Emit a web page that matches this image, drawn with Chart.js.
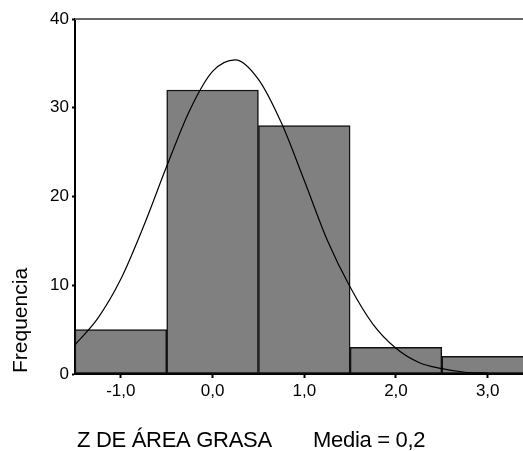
<!DOCTYPE html>
<html>
<head>
<meta charset="utf-8">
<script src="https://cdn.jsdelivr.net/npm/chart.js@4/dist/chart.umd.min.js"></script>
<style>
    html, body { margin: 0; padding: 0; background: #fff; }
    canvas { display: block; }
</style>
</head>
<body>
<canvas id="chart" width="523" height="451"></canvas>
<script>
// histogram bins (centre of each bin, width 1)
const binCenters = [-1, 0, 1, 2, 3];
const frequencies = [5, 32, 28, 3, 2];

// normal curve
const curveX = [-1.5, -1.25, -1, -0.75, -0.5, -0.25, 0, 0.25, 0.5, 0.75, 1, 1.25, 1.5, 1.75, 2, 2.25, 2.5, 2.75, 3];
const curveY = [3.3, 6.3, 10.7, 16.7, 23.4, 29.7, 34.1, 35.4, 33.2, 28.3, 21.8, 15.1, 9.8, 5.6, 2.9, 1.3, 0.6, 0.2, 0.1];

const xTicks = [-1, 0, 1, 2, 3];
const yTicks = [0, 10, 20, 30, 40];

const xTitle = 'Z DE ÁREA GRASA';
const meanLabel = 'Media = 0,2';
const yTitle = 'Frequencia';

const FONT = '"Liberation Sans", Arial, sans-serif';

const framePlugin = {
    id: 'frame',
    afterDraw(chart) {
        const ctx = chart.ctx;
        const area = chart.chartArea;
        ctx.save();
        // grey top border
        ctx.strokeStyle = '#666';
        ctx.lineWidth = 2;
        ctx.beginPath();
        ctx.moveTo(area.left, area.top);
        ctx.lineTo(chart.width, area.top);
        ctx.stroke();

        ctx.fillStyle = '#000';
        ctx.font = '22px ' + FONT;
        ctx.textBaseline = 'alphabetic';
        ctx.textAlign = 'left';
        ctx.letterSpacing = '-0.3px';
        ctx.fillText(xTitle, 77, 447);
        ctx.fillText(meanLabel, 313, 447);

        ctx.translate(27, 373);
        ctx.rotate(-Math.PI / 2);
        ctx.font = '21px ' + FONT;
        ctx.letterSpacing = '0px';
        ctx.fillText(yTitle, 0, 0);
        ctx.restore();
    }
};

const ctx = document.getElementById('chart').getContext('2d');

new Chart(ctx, {
    type: 'bar',
    data: {
        datasets: [
            {
                type: 'line',
                label: 'Normal',
                data: curveX.map((x, i) => ({ x: x, y: curveY[i] })),
                borderColor: '#000',
                borderWidth: 1.2,
                pointRadius: 0,
                cubicInterpolationMode: 'monotone',
                fill: false,
                order: 0
            },
            {
                type: 'bar',
                label: 'Frecuencia',
                data: binCenters.map((x, i) => ({ x: x, y: frequencies[i] })),
                backgroundColor: 'rgb(128, 128, 128)',
                borderColor: '#111',
                borderWidth: 1.5,
                borderSkipped: false,
                barPercentage: 1,
                categoryPercentage: 1,
                order: 1
            }
        ]
    },
    options: {
        responsive: false,
        animation: false,
        layout: { padding: { top: 19, right: 0, left: 0, bottom: 0 } },
        plugins: {
            legend: { display: false },
            tooltip: { enabled: false }
        },
        scales: {
            x: {
                type: 'linear',
                offset: false,
                min: -1.5,
                max: 3.385,
                afterBuildTicks: scale => {
                    scale.ticks = xTicks.map(v => ({ value: v }));
                },
                afterFit: scale => { scale.height = 77; },
                ticks: {
                    color: '#000',
                    font: { family: FONT, size: 17 },
                    padding: 3,
                    maxRotation: 0,
                    callback: v => v.toFixed(1).replace('.', ',')
                },
                grid: {
                    offset: false,
                    drawOnChartArea: false,
                    tickLength: 4,
                    tickWidth: 2,
                    tickColor: '#000'
                },
                border: { color: '#000', width: 2 }
            },
            y: {
                min: 0,
                max: 40,
                afterBuildTicks: scale => {
                    scale.ticks = yTicks.map(v => ({ value: v }));
                },
                afterFit: scale => { scale.width = 75; },
                ticks: {
                    color: '#000',
                    font: { family: FONT, size: 17 },
                    padding: 3
                },
                grid: {
                    drawOnChartArea: false,
                    tickLength: 3,
                    tickWidth: 2,
                    tickColor: '#000'
                },
                border: { color: '#000', width: 2 }
            }
        }
    },
    plugins: [framePlugin]
});
</script>
</body>
</html>
